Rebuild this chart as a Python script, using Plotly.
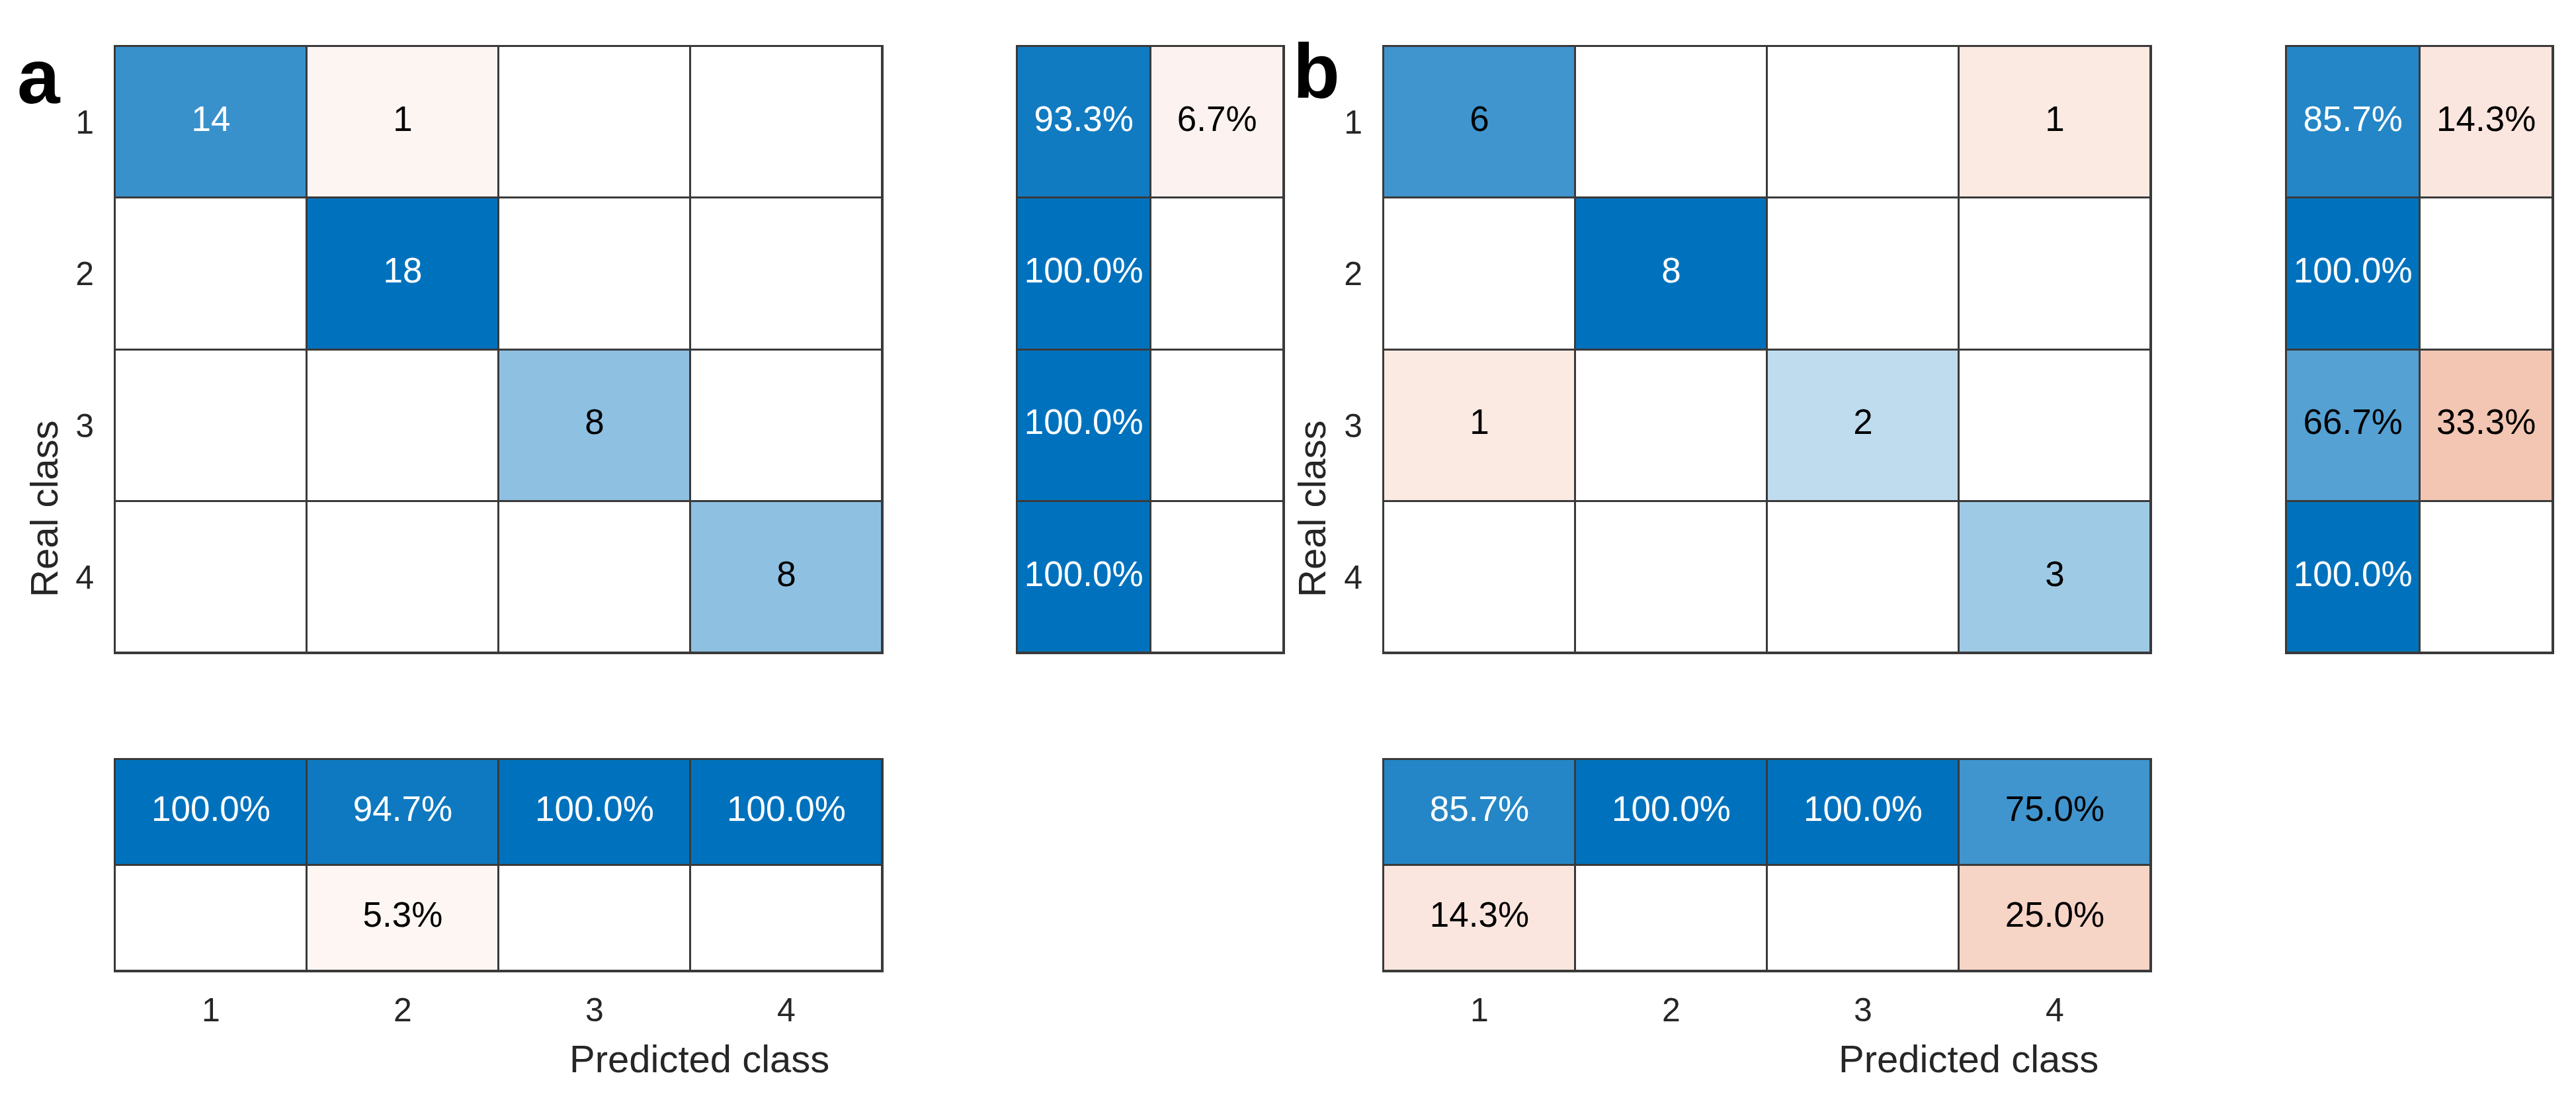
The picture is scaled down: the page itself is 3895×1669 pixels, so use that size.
import plotly.graph_objects as go

# ---------------- data ----------------
classes = [1, 2, 3, 4]
class_labels = ["1", "2", "3", "4"]

counts_a = [[14, 1, 0, 0],
            [0, 18, 0, 0],
            [0, 0, 8, 0],
            [0, 0, 0, 8]]
row_pct_a = [[93.3, 6.7],
             [100.0, 0.0],
             [100.0, 0.0],
             [100.0, 0.0]]
col_pct_a = [[100.0, 94.7, 100.0, 100.0],
             [0.0, 5.3, 0.0, 0.0]]

counts_b = [[6, 0, 0, 1],
            [0, 8, 0, 0],
            [1, 0, 2, 0],
            [0, 0, 0, 3]]
row_pct_b = [[85.7, 14.3],
             [100.0, 0.0],
             [66.7, 33.3],
             [100.0, 0.0]]
col_pct_b = [[85.7, 100.0, 100.0, 75.0],
             [14.3, 0.0, 0.0, 25.0]]

# ---------------- styling ----------------
W, H = 3895, 1669
BLUE = "#0072BD"
RED = "#D95319"
LINE = "#3a3a3a"
FONT = "Liberation Sans, Arial, sans-serif"
CELL_FS = 53
TICK_FS = 50
TITLE_FS = 58


def px_x(a, b):
    return [a / W, b / W]


def px_y(top, bottom):
    return [1 - bottom / H, 1 - top / H]


fig = go.Figure()
colorscale = [[0.0, RED], [0.5, "#FFFFFF"], [1.0, BLUE]]


def add_matrix(idx, xdom, ydom, z, texts, nx, ny, show_y=False, show_x=False):
    xa = "x" if idx == 1 else f"x{idx}"
    ya = "y" if idx == 1 else f"y{idx}"
    xs = list(range(1, nx + 1))
    ys = list(range(1, ny + 1))
    fig.add_trace(go.Heatmap(
        x=xs, y=ys, z=z, colorscale=colorscale, zmin=-1, zmax=1,
        showscale=False, xgap=3, ygap=3, hoverinfo="skip",
        xaxis=xa, yaxis=ya))
    tx, ty, tt, tc = [], [], [], []
    for r in range(ny):
        for c in range(nx):
            if texts[r][c]:
                tx.append(xs[c]); ty.append(ys[r]); tt.append(texts[r][c])
                v = z[r][c]
                tc.append("white" if v > 0.76 else "black")
    fig.add_trace(go.Scatter(
        x=tx, y=ty, text=tt, mode="text",
        textfont=dict(family=FONT, size=CELL_FS, color=tc),
        hoverinfo="skip", showlegend=False, xaxis=xa, yaxis=ya))
    common = dict(showgrid=False, zeroline=False, showline=True, mirror=True,
                  linecolor=LINE, linewidth=2, ticks="", fixedrange=True,
                  tickfont=dict(family=FONT, size=TICK_FS, color="#262626"))
    xkey = "xaxis" if idx == 1 else f"xaxis{idx}"
    ykey = "yaxis" if idx == 1 else f"yaxis{idx}"
    fig.update_layout({
        xkey: dict(domain=xdom, anchor=ya, range=[0.5, nx + 0.5],
                   tickvals=xs, ticktext=class_labels[:nx] if show_x else None,
                   showticklabels=show_x, ticklabelstandoff=14, **common),
        ykey: dict(domain=ydom, anchor=xa, range=[ny + 0.5, 0.5],
                   tickvals=ys, ticktext=class_labels[:ny] if show_y else None,
                   showticklabels=show_y, ticklabelstandoff=20, **common),
    })


def main_z(counts):
    m = max(max(r) for r in counts)
    z = []
    for i, row in enumerate(counts):
        z.append([(v / m if i == j else -v / m) for j, v in enumerate(row)])
    return z


def main_txt(counts):
    return [[(str(v) if v else "") for v in row] for row in counts]


def row_z(p):
    return [[r[0] / 100, -r[1] / 100] for r in p]


def row_txt(p):
    return [[(f"{v:.1f}%" if v else "") for v in r] for r in p]


def col_z(p):
    return [[v / 100 for v in p[0]], [-v / 100 for v in p[1]]]


# panel a
add_matrix(1, px_x(166, 1326), px_y(62, 979), main_z(counts_a), main_txt(counts_a), 4, 4, show_y=True)
add_matrix(2, px_x(1530, 1933), px_y(62, 979), row_z(row_pct_a), row_txt(row_pct_a), 2, 4)
add_matrix(3, px_x(166, 1326), px_y(1140, 1460), col_z(col_pct_a), row_txt(col_pct_a), 4, 2, show_x=True)
# panel b
add_matrix(4, px_x(2084, 3244), px_y(62, 979), main_z(counts_b), main_txt(counts_b), 4, 4, show_y=True)
add_matrix(5, px_x(3449, 3852), px_y(62, 979), row_z(row_pct_b), row_txt(row_pct_b), 2, 4)
add_matrix(6, px_x(2084, 3244), px_y(1140, 1460), col_z(col_pct_b), row_txt(col_pct_b), 4, 2, show_x=True)

ann = []
for cx, cy_pred, cx_real in [((166 + 1933) / 2, 1592, 58), ((2084 + 3852) / 2, 1592, 1975)]:
    ann.append(dict(x=cx / W, y=1 - cy_pred / H, xref="paper", yref="paper",
                    text="Predicted class", showarrow=False, xanchor="center", yanchor="middle",
                    font=dict(family=FONT, size=TITLE_FS, color="#262626")))
    ann.append(dict(x=cx_real / W, y=1 - 761 / H, xref="paper", yref="paper",
                    text="Real class", showarrow=False, textangle=-90, xanchor="center", yanchor="middle",
                    font=dict(family=FONT, size=TITLE_FS, color="#262626")))
for lab, lx, ly in [("a", 16, 108), ("b", 1945, 100)]:
    ann.append(dict(x=lx / W, y=1 - ly / H, xref="paper", yref="paper",
                    text=f"<b>{lab}</b>", showarrow=False, xanchor="left", yanchor="middle",
                    font=dict(family=FONT, size=116, color="black")))

fig.update_layout(width=W, height=H, margin=dict(l=0, r=0, t=0, b=0),
                  paper_bgcolor="white", plot_bgcolor=LINE, showlegend=False,
                  annotations=ann)

fig.write_html("out.html")
